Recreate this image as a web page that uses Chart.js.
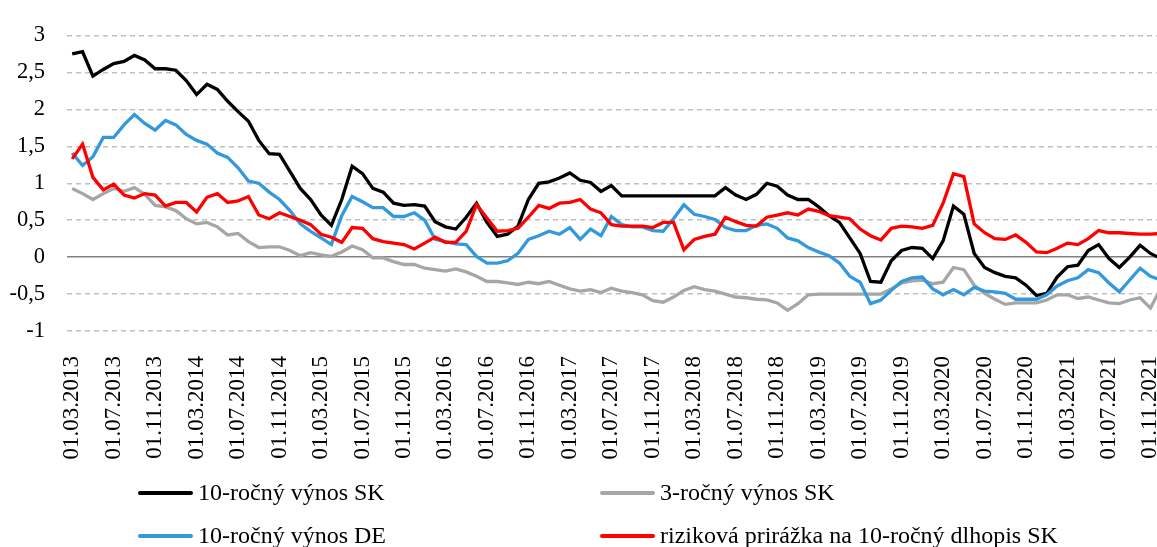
<!DOCTYPE html>
<html>
<head>
<meta charset="utf-8">
<script src="https://cdn.jsdelivr.net/npm/chart.js@4/dist/chart.umd.min.js"></script>
<style>
    html, body { margin: 0; padding: 0; background: #fff; overflow: hidden; }
    #wrap { position: absolute; left: 0; top: 0; width: 1166px; height: 547px; }
    #legend {
        position: absolute; left: 138px; top: 471px;
        display: grid; grid-template-columns: 462px auto; grid-auto-rows: 43px;
        font-family: 'Liberation Serif', 'Times New Roman', serif; font-size: 24px; color: #000;
    }
    .item { display: flex; align-items: center; white-space: nowrap; }
    .swatch { width: 55px; height: 4px; border-radius: 2px; margin-right: 5px; }
</style>
</head>
<body>
<div id="wrap"><canvas id="chart"></canvas></div>
<div id="legend"></div>
<script>
const categories = [
    '01.03.2013', '01.04.2013', '01.05.2013', '01.06.2013', '01.07.2013', '01.08.2013', '01.09.2013', '01.10.2013', '01.11.2013', '01.12.2013',
    '01.01.2014', '01.02.2014', '01.03.2014', '01.04.2014', '01.05.2014', '01.06.2014', '01.07.2014', '01.08.2014', '01.09.2014', '01.10.2014', '01.11.2014', '01.12.2014',
    '01.01.2015', '01.02.2015', '01.03.2015', '01.04.2015', '01.05.2015', '01.06.2015', '01.07.2015', '01.08.2015', '01.09.2015', '01.10.2015', '01.11.2015', '01.12.2015',
    '01.01.2016', '01.02.2016', '01.03.2016', '01.04.2016', '01.05.2016', '01.06.2016', '01.07.2016', '01.08.2016', '01.09.2016', '01.10.2016', '01.11.2016', '01.12.2016',
    '01.01.2017', '01.02.2017', '01.03.2017', '01.04.2017', '01.05.2017', '01.06.2017', '01.07.2017', '01.08.2017', '01.09.2017', '01.10.2017', '01.11.2017', '01.12.2017',
    '01.01.2018', '01.02.2018', '01.03.2018', '01.04.2018', '01.05.2018', '01.06.2018', '01.07.2018', '01.08.2018', '01.09.2018', '01.10.2018', '01.11.2018', '01.12.2018',
    '01.01.2019', '01.02.2019', '01.03.2019', '01.04.2019', '01.05.2019', '01.06.2019', '01.07.2019', '01.08.2019', '01.09.2019', '01.10.2019', '01.11.2019', '01.12.2019',
    '01.01.2020', '01.02.2020', '01.03.2020', '01.04.2020', '01.05.2020', '01.06.2020', '01.07.2020', '01.08.2020', '01.09.2020', '01.10.2020', '01.11.2020', '01.12.2020',
    '01.01.2021', '01.02.2021', '01.03.2021', '01.04.2021', '01.05.2021', '01.06.2021', '01.07.2021', '01.08.2021', '01.09.2021', '01.10.2021', '01.11.2021', '01.12.2021'
]

const vynosSK10 = [
    2.75, 2.78, 2.45, 2.54, 2.62, 2.65, 2.73, 2.67, 2.55, 2.55,
    2.53, 2.39, 2.20, 2.34, 2.27, 2.11, 1.97, 1.84, 1.58, 1.40,
    1.39, 1.16, 0.93, 0.78, 0.57, 0.43, 0.78, 1.23, 1.13, 0.93,
    0.88, 0.73, 0.70, 0.71, 0.69, 0.48, 0.41, 0.38, 0.54, 0.73,
    0.47, 0.28, 0.31, 0.42, 0.78, 1.00, 1.02, 1.07, 1.14, 1.04,
    1.01, 0.89, 0.97, 0.83, 0.83, 0.83, 0.83, 0.83, 0.83, 0.83,
    0.83, 0.83, 0.83, 0.94, 0.84, 0.78, 0.85, 1.00, 0.96, 0.84,
    0.78, 0.78, 0.68, 0.56, 0.47, 0.26, 0.05, -0.33, -0.34, -0.05,
    0.09, 0.13, 0.12, -0.02, 0.22, 0.69, 0.58, 0.05, -0.14, -0.21,
    -0.26, -0.28, -0.38, -0.52, -0.49, -0.27, -0.13, -0.11, 0.09, 0.17,
    -0.02, -0.14, 0.00, 0.16, 0.05, -0.02
]

const vynosSK3 = [
    0.93, 0.86, 0.78, 0.86, 0.93, 0.89, 0.94, 0.85, 0.70, 0.68,
    0.63, 0.52, 0.45, 0.47, 0.41, 0.30, 0.32, 0.21, 0.13, 0.14,
    0.14, 0.09, 0.02, 0.06, 0.03, 0.01, 0.07, 0.15, 0.10, -0.01,
    -0.01, -0.06, -0.10, -0.10, -0.15, -0.17, -0.19, -0.16, -0.20, -0.26,
    -0.33, -0.33, -0.35, -0.37, -0.34, -0.36, -0.33, -0.38, -0.43, -0.46,
    -0.44, -0.48, -0.42, -0.46, -0.48, -0.51, -0.59, -0.61, -0.54, -0.45,
    -0.40, -0.44, -0.46, -0.50, -0.54, -0.55, -0.57, -0.58, -0.62, -0.72,
    -0.63, -0.51, -0.50, -0.50, -0.50, -0.50, -0.50, -0.50, -0.50, -0.43,
    -0.35, -0.32, -0.31, -0.36, -0.34, -0.14, -0.17, -0.38, -0.49, -0.57,
    -0.64, -0.62, -0.62, -0.62, -0.58, -0.51, -0.51, -0.56, -0.54, -0.58,
    -0.62, -0.63, -0.58, -0.55, -0.69, -0.42
]

const vynosDE10 = [
    1.41, 1.24, 1.36, 1.62, 1.62, 1.79, 1.93, 1.81, 1.72, 1.85,
    1.79, 1.66, 1.58, 1.53, 1.41, 1.35, 1.21, 1.03, 1.00, 0.88,
    0.78, 0.63, 0.45, 0.35, 0.26, 0.17, 0.56, 0.82, 0.75, 0.67,
    0.67, 0.55, 0.55, 0.60, 0.50, 0.24, 0.21, 0.18, 0.17, 0.01,
    -0.08, -0.08, -0.05, 0.05, 0.24, 0.29, 0.35, 0.31, 0.40, 0.24,
    0.38, 0.29, 0.55, 0.44, 0.41, 0.41, 0.36, 0.35, 0.52, 0.71,
    0.58, 0.55, 0.51, 0.40, 0.36, 0.36, 0.43, 0.45, 0.39, 0.26,
    0.22, 0.13, 0.07, 0.02, -0.08, -0.26, -0.34, -0.63, -0.58, -0.45,
    -0.33, -0.28, -0.27, -0.43, -0.51, -0.44, -0.51, -0.41, -0.46, -0.47,
    -0.49, -0.57, -0.57, -0.57, -0.51, -0.39, -0.32, -0.28, -0.17, -0.21,
    -0.35, -0.47, -0.31, -0.15, -0.26, -0.31
]

const prirazkaSK10 = [
    1.33, 1.53, 1.08, 0.91, 0.99, 0.84, 0.80, 0.86, 0.84, 0.69,
    0.74, 0.74, 0.61, 0.81, 0.86, 0.74, 0.76, 0.82, 0.57, 0.52,
    0.60, 0.55, 0.50, 0.44, 0.31, 0.27, 0.20, 0.40, 0.39, 0.25,
    0.21, 0.19, 0.17, 0.11, 0.19, 0.27, 0.20, 0.20, 0.35, 0.71,
    0.53, 0.35, 0.36, 0.39, 0.54, 0.70, 0.66, 0.73, 0.74, 0.78,
    0.65, 0.60, 0.44, 0.42, 0.42, 0.42, 0.40, 0.47, 0.47, 0.10,
    0.24, 0.28, 0.31, 0.54, 0.48, 0.43, 0.42, 0.54, 0.57, 0.60,
    0.57, 0.65, 0.62, 0.56, 0.54, 0.52, 0.38, 0.29, 0.23, 0.39,
    0.42, 0.41, 0.39, 0.43, 0.73, 1.13, 1.09, 0.45, 0.33, 0.25,
    0.24, 0.30, 0.20, 0.07, 0.06, 0.12, 0.19, 0.17, 0.25, 0.36,
    0.33, 0.33, 0.32, 0.31, 0.31, 0.32
]

const yTicks = [-1, -0.5, 0, 0.5, 1, 1.5, 2, 2.5, 3]

const serif = "'Liberation Serif', 'Times New Roman', serif"

function line(label, data, color, order) {
    return {
        label: label,
        data: data,
        borderColor: color,
        backgroundColor: color,
        borderWidth: 3.3,
        pointRadius: 0,
        tension: 0,
        order: order
    }
}

window.addEventListener('load', (event) => {
    const ctx = document.getElementById('chart').getContext('2d')
    const chart = new Chart(ctx, {
        type: 'line',
        data: {
            labels: categories,
            datasets: [
                line('10-ročný výnos SK', vynosSK10, '#000000', 4),
                line('3-ročný výnos SK', vynosSK3, '#a6a6a6', 3),
                line('10-ročný výnos DE', vynosDE10, '#3399dd', 2),
                line('riziková prirážka na 10-ročný dlhopis SK', prirazkaSK10, '#ff0000', 1)
            ]
        },
        options: {
            responsive: true,
            maintainAspectRatio: false,
            devicePixelRatio: 1,
            animation: false,
            layout: { padding: { top: 21, left: 0, right: 0, bottom: 0 } },
            plugins: { legend: { display: false }, tooltip: { enabled: false } },
            scales: {
                x: {
                    offset: true,
                    grid: { display: false },
                    border: { display: false },
                    afterFit: (scale) => {
                        scale.height = 216
                        scale.paddingLeft = 0
                        scale.paddingRight = 0
                    },
                    ticks: {
                        autoSkip: false,
                        maxRotation: 90,
                        minRotation: 90,
                        padding: 17,
                        color: '#000',
                        font: { family: serif, size: 23 },
                        callback: function (value, index) {
                            return index % 4 === 0 ? categories[index] : ''
                        }
                    }
                },
                y: {
                    min: yTicks[0],
                    max: yTicks[yTicks.length - 1],
                    afterFit: (scale) => { scale.width = 67 },
                    afterBuildTicks: (scale) => { scale.ticks = yTicks.map(v => ({ value: v })) },
                    grid: {
                        drawTicks: false,
                        lineWidth: 1.5,
                        color: (c) => c.tick && c.tick.value === 0 ? '#808080' : '#bfbfbf'
                    },
                    border: {
                        display: false,
                        dash: (c) => c.tick && c.tick.value === 0 ? [] : [5, 4]
                    },
                    ticks: {
                        padding: 22,
                        color: '#000',
                        font: { family: serif, size: 22.5 },
                        callback: (value) => String(value).replace('.', ',')
                    }
                }
            }
        }
    })

    // legenda v dvoch stlpcoch ako v povodnom grafe
    const legend = document.getElementById('legend')
    chart.data.datasets.forEach((ds) => {
        const item = document.createElement('div')
        item.className = 'item'
        const sw = document.createElement('span')
        sw.className = 'swatch'
        sw.style.background = ds.borderColor
        item.appendChild(sw)
        item.appendChild(document.createTextNode(ds.label))
        legend.appendChild(item)
    })
})
</script>
</body>
</html>
